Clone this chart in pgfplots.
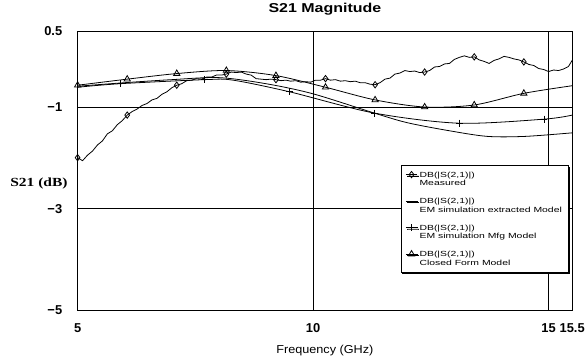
\documentclass[border=0pt]{standalone}
\usepackage{pgfplots}
\usepackage{pgfplotstable}
\pgfplotsset{compat=1.18}
\usepackage{fontspec}
\setmainfont{Liberation Sans}
\newfontfamily\serifbold[FakeStretch=1.25]{Liberation Serif}
\newfontfamily\titlefont[FakeStretch=1.24]{Liberation Sans}
\newfontfamily\labelfont[FakeStretch=1.1]{Liberation Sans}
\newfontfamily\legfont[FakeStretch=1.4]{Liberation Sans}
\usetikzlibrary{shadows}

% Measured |S21| (dB) versus frequency (GHz)
\pgfplotstableread{
f      s21
5.000 -1.99
5.105 -2.05
5.211 -1.94
5.316 -1.86
5.421 -1.74
5.526 -1.66
5.632 -1.52
5.737 -1.46
5.842 -1.34
5.947 -1.26
6.053 -1.15
6.158 -1.08
6.263 -1.03
6.368 -0.96
6.474 -0.92
6.579 -0.85
6.684 -0.82
6.789 -0.74
6.895 -0.69
7.000 -0.61
7.105 -0.56
7.211 -0.53
7.316 -0.47
7.421 -0.46
7.526 -0.43
7.632 -0.44
7.737 -0.40
7.842 -0.40
7.947 -0.36
8.053 -0.36
8.158 -0.34
8.263 -0.30
8.368 -0.31
8.474 -0.30
8.579 -0.34
8.684 -0.36
8.789 -0.43
8.895 -0.44
9.000 -0.45
9.105 -0.44
9.211 -0.45
9.316 -0.47
9.421 -0.46
9.526 -0.48
9.632 -0.47
9.737 -0.50
9.842 -0.49
9.947 -0.50
10.053 -0.46
10.158 -0.46
10.263 -0.43
10.368 -0.46
10.474 -0.45
10.579 -0.48
10.684 -0.47
10.789 -0.49
10.895 -0.48
11.000 -0.51
11.105 -0.51
11.211 -0.54
11.316 -0.55
11.421 -0.51
11.526 -0.44
11.632 -0.42
11.737 -0.34
11.842 -0.32
11.947 -0.27
12.053 -0.29
12.158 -0.28
12.263 -0.31
12.368 -0.30
12.474 -0.27
12.579 -0.20
12.684 -0.19
12.789 -0.14
12.895 -0.13
13.000 -0.05
13.105 -0.01
13.211 0.02
13.316 -0.01
13.421 0.00
13.526 -0.06
13.632 -0.09
13.737 -0.13
13.842 -0.07
13.947 -0.04
14.053 0.01
14.158 -0.01
14.263 -0.04
14.368 -0.06
14.474 -0.10
14.579 -0.15
14.684 -0.17
14.789 -0.23
14.895 -0.25
15.000 -0.29
15.105 -0.26
15.211 -0.27
15.316 -0.24
15.421 -0.19
15.500 -0.07
}\measured

% EM simulation, extracted model
\pgfplotstableread{
f      s21
5.0  -0.58
6.0  -0.51
7.0  -0.45
8.0  -0.41
9.0  -0.53
10.0 -0.73
11.3 -1.11
12.0 -1.30
12.9 -1.46
13.7 -1.57
14.5 -1.57
15.5 -1.50
}\extracted

% EM simulation, manufacturing model
\pgfplotstableread{
f      s21
5.0  -0.60
5.9  -0.53
7.7  -0.45
8.3  -0.46
9.5  -0.69
11.3 -1.11
13.1 -1.31
14.9 -1.23
15.5 -1.15
}\mfg

% Closed form model
\pgfplotstableread{
f      s21
5.000  -0.56
6.053  -0.44
7.105  -0.33
8.158  -0.27
9.211  -0.37
10.263 -0.60
11.316 -0.85
12.368 -0.99
13.421 -0.95
14.474 -0.72
15.500 -0.57
}\closedform

\begin{document}
\begin{tikzpicture}
\begin{axis}[
  scale only axis,
  width=497bp, height=280bp,
  xmin=5, xmax=15.5, ymin=-5, ymax=0.5,
  clip=false,
  axis line style={line width=1.1pt},
  xtick={5,10,15,15.5},
  xticklabels={5,10,15,15.5},
  ytick={-5,-3,-1,0.5},
  yticklabels={−5,−3,−1,0.5},
  major tick length=0pt,
  grid=major,
  major grid style={black, line width=0.8pt},
  tick label style={font=\fontsize{13}{15}\selectfont\bfseries},
  xticklabel style={anchor=base, yshift=-22bp},
  yticklabel style={xshift=-12bp},
  title={S21 Magnitude},
  title style={font=\titlefont\fontsize{13}{15}\selectfont\bfseries, at={(0.5,1)}, anchor=base, yshift=13bp},
  xlabel={Frequency (GHz)},
  xlabel style={font=\labelfont\fontsize{11.6}{13}\selectfont, at={(0.5,0)}, anchor=base, yshift=-44bp},
  legend style={
    at={(0.654,0.518)}, anchor=north west, outer sep=0pt,
    font=\legfont\fontsize{7.5}{8.8}\selectfont,
    cells={anchor=base west, align=left},
    draw=black, line width=0.8pt, fill=white,
    row sep=7pt, inner xsep=4.5pt, inner ysep=4pt,
    drop shadow={shadow xshift=1.4pt, shadow yshift=-1.4pt, fill=black, opacity=1},
  },
  legend image code/.code={
    \draw[mark indices={2}] plot coordinates {(0cm,0.40cm) (0.2cm,0.40cm) (0.4cm,0.40cm)};
  },
  every axis plot/.append style={black, line width=0.8pt},
]
\addplot[mark=diamond, mark size=3.2pt, mark options={fill=white, solid, line width=0.8pt},
  mark indices={1,11,21,31,41,51,61,71,81,91}] table[x=f, y=s21] {\measured};
\addlegendentry{DB(|S(2,1)|)\\Measured}

\addplot[smooth, no marks] table[x=f, y=s21] {\extracted};
\addlegendentry{DB(|S(2,1)|)\\EM simulation extracted Model}

\addplot[smooth, mark=+, mark size=3.5pt, mark options={solid, line width=0.8pt},
  mark indices={2,3,5,6,7,8}] table[x=f, y=s21] {\mfg};
\addlegendentry{DB(|S(2,1)|)\\EM simulation Mfg Model}

\addplot[smooth, mark=triangle, mark size=3.6pt, mark options={fill=white, solid, line width=0.8pt},
  mark indices={1,2,3,4,5,6,7,8,9,10}] table[x=f, y=s21] {\closedform};
\addlegendentry{DB(|S(2,1)|)\\Closed Form Model}

\node[anchor=east, inner sep=0pt, font=\serifbold\bfseries\fontsize{12.5}{14}\selectfont]
  at (rel axis cs:-0.02,0.4536) {S21 (dB)};

\coordinate (sw) at (rel axis cs:0,0);
\coordinate (ne) at (rel axis cs:1,1);
\end{axis}
\path (sw) ++(-78bp,-54bp);
\path (ne) ++(13bp,30bp);
\end{tikzpicture}
\end{document}
